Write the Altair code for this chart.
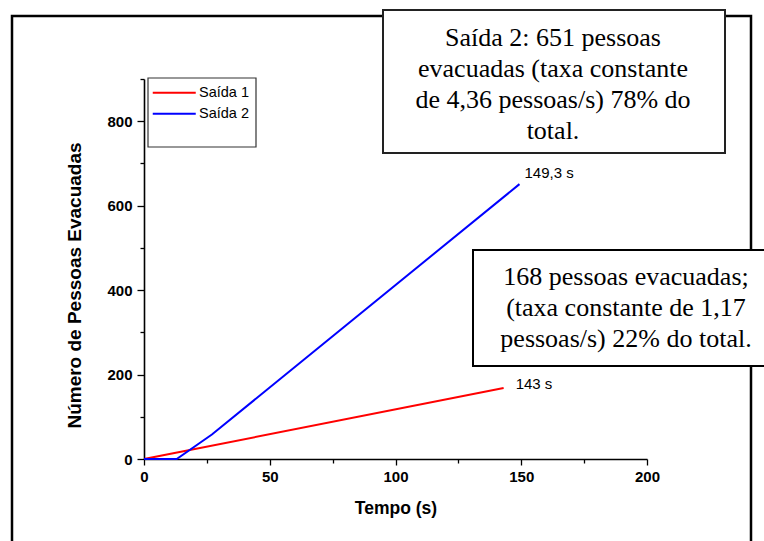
import altair as alt
import pandas as pd

# ---- data ----
t_saida1 = [0, 143]
v_saida1 = [0, 168]
t_saida2 = [0, 13, 27, 149.3]
v_saida2 = [0, 0, 58, 651]
series = ["Saída 1", "Saída 2"]
colors = ["#ff0000", "#0000ff"]
end_t = [143, 149.3]
end_v = [168, 651]
end_labels = ["143 s", "149,3 s"]
x_major = [0, 50, 100, 150, 200]
x_minor = [25, 75, 125, 175]
y_major = [0, 200, 400, 600, 800]
y_minor = [100, 300, 500, 700, 900]
box1_lines = ["Saída 2: 651 pessoas", "evacuadas (taxa constante",
              "de 4,36 pessoas/s) 78% do", "total."]
box2_lines = ["168 pessoas evacuadas;", "(taxa constante de 1,17",
              "pessoas/s) 22% do total."]

rows = []
for t, v in zip(t_saida1, v_saida1):
    rows.append({"t": t, "v": v, "serie": series[0]})
for t, v in zip(t_saida2, v_saida2):
    rows.append({"t": t, "v": v, "serie": series[1]})
df = pd.DataFrame(rows)
ends = pd.DataFrame({"t": end_t, "v": end_v, "label": end_labels, "serie": series})
one = pd.DataFrame({"k": [0]})

W, H = 503, 380
SANS = "Liberation Sans"
SERIF = "Liberation Serif"

xs = alt.Scale(domain=[0, 200], nice=False, zero=False)
ys = alt.Scale(domain=[0, 900], nice=False)

x_axis = alt.Axis(values=x_major, format="d", tickSize=6, tickWidth=1.3, tickColor="black",
                  domainColor="black", domainWidth=1.6, grid=False,
                  labelFont=SANS, labelFontSize=15, labelFontWeight="bold", labelColor="black",
                  labelPadding=4, labelFlush=False, labelOverlap=False,
                  title="Tempo (s)", titleFont=SANS, titleFontSize=17.5, titleFontWeight="bold",
                  titleColor="black", titleY=54, titleBaseline="alphabetic", orient="bottom")
y_axis = alt.Axis(values=y_major, format="d", tickSize=7, tickWidth=1.3, tickColor="black",
                  domainColor="black", domainWidth=1.6, grid=False,
                  labelFont=SANS, labelFontSize=15, labelFontWeight="bold", labelColor="black",
                  labelPadding=5, labelFlush=False, labelOverlap=False,
                  title="Número de Pessoas Evacuadas", titleFont=SANS, titleFontSize=19,
                  titleFontWeight="bold", titleColor="black", titleAngle=270,
                  titleX=-64, titleY=206, titleAlign="center", titleBaseline="alphabetic",
                  orient="left")
x_axis_minor = alt.Axis(values=x_minor, tickSize=4, tickWidth=1.3, tickColor="black",
                        labels=False, domain=False, grid=False, title=None, orient="bottom")
y_axis_minor = alt.Axis(values=y_minor, tickSize=4, tickWidth=1.3, tickColor="black",
                        labels=False, domain=False, grid=False, title=None, orient="left")

legend = alt.Legend(title=None, orient="none", legendX=1.5, legendY=6.5, padding=0,
                    symbolType="M0,0H8.6", symbolSize=100, symbolStrokeWidth=2,
                    labelFont=SANS, labelFontSize=14.5, labelColor="black",
                    labelOffset=39, rowPadding=6)

# decorative frame and boxes (pixel positions relative to plot origin)
frame = alt.Chart(one).mark_rect(filled=False, stroke="black", strokeWidth=2.5).encode(
    x=alt.value(-132), x2=alt.value(607), y=alt.value(-63), y2=alt.value(480))
box1 = alt.Chart(one).mark_rect(fill="white", stroke="#222222", strokeWidth=2).encode(
    x=alt.value(239), x2=alt.value(581), y=alt.value(-69), y2=alt.value(74))
box2 = alt.Chart(one).mark_rect(fill="white", stroke="black", strokeWidth=2).encode(
    x=alt.value(329), x2=alt.value(640), y=alt.value(171), y2=alt.value(287))
text1 = alt.Chart(one).mark_text(font=SERIF, fontSize=26, lineHeight=31, align="center",
                                 baseline="alphabetic", color="black").encode(
    x=alt.value(409), y=alt.value(-33), text=alt.value(box1_lines))
text2 = alt.Chart(one).mark_text(font=SERIF, fontSize=26, lineHeight=31, align="center",
                                 baseline="alphabetic", color="black").encode(
    x=alt.value(482), y=alt.value(206), text=alt.value(box2_lines))
legend_box = alt.Chart(one).mark_rect(filled=False, stroke="#333333", strokeWidth=1.2).encode(
    x=alt.value(4), x2=alt.value(112), y=alt.value(-1), y2=alt.value(68))

lines = alt.Chart(df).mark_line(strokeWidth=2).encode(
    x=alt.X("t:Q", scale=xs, axis=x_axis),
    y=alt.Y("v:Q", scale=ys, axis=y_axis),
    color=alt.Color("serie:N", scale=alt.Scale(domain=series, range=colors), legend=legend),
)

lab1 = alt.Chart(ends).transform_filter(alt.datum.serie == series[0]).mark_text(
    font=SANS, fontSize=15, align="left", baseline="alphabetic", dx=12, dy=1, color="black"
).encode(x=alt.X("t:Q", scale=xs, axis=None), y=alt.Y("v:Q", scale=ys, axis=None), text="label:N")
lab2 = alt.Chart(ends).transform_filter(alt.datum.serie == series[1]).mark_text(
    font=SANS, fontSize=15, align="left", baseline="alphabetic", dx=5, dy=-6, color="black"
).encode(x=alt.X("t:Q", scale=xs, axis=None), y=alt.Y("v:Q", scale=ys, axis=None), text="label:N")

minor = alt.Chart(df).mark_line(opacity=0).encode(
    x=alt.X("t:Q", scale=xs, axis=x_axis_minor),
    y=alt.Y("v:Q", scale=ys, axis=y_axis_minor),
)

chart = alt.layer(frame, box1, box2, text1, text2, legend_box, lines, lab1, lab2, minor).resolve_scale(
    x="shared", y="shared"
).resolve_axis(x="independent", y="independent").properties(
    width=W, height=H,
    autosize=alt.AutoSizeParams(type="none"),
    padding={"left": 144, "top": 79, "right": 117, "bottom": 82},
    background="white",
).configure_view(stroke=None)

chart.save("out.html", embed_options={"renderer": "svg", "actions": False})
